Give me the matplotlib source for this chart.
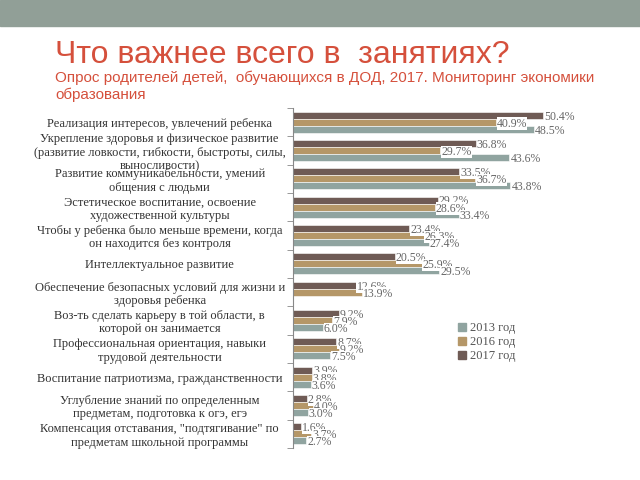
import numpy as np
import matplotlib
matplotlib.use("Agg")
import matplotlib.pyplot as plt
from matplotlib.patches import Rectangle
from matplotlib.lines import Line2D

categories = [
    "Реализация интересов, увлечений ребенка",
    "Укрепление здоровья и физическое развитие\n(развитие ловкости, гибкости, быстроты, силы,\nвыносливости)",
    "Развитие коммуникабельности, умений\nобщения с людьми",
    "Эстетическое воспитание, освоение\nхудожественной культуры",
    "Чтобы у ребенка было меньше времени, когда\nон находится без контроля",
    "Интеллектуальное развитие",
    "Обеспечение безопасных условий для жизни и\nздоровья ребенка",
    "Воз-ть сделать карьеру в той области, в\nкоторой он занимается",
    "Профессиональная ориентация, навыки\nтрудовой деятельности",
    "Воспитание патриотизма, гражданственности",
    "Углубление знаний по определенным\nпредметам, подготовка к огэ, егэ",
    "Компенсация отставания, \"подтягивание\" по\nпредметам школьной программы",
]
v2017 = [50.4, 36.8, 33.5, 29.2, 23.4, 20.5, 12.6, 9.2, 8.7, 3.9, 2.8, 1.6]
v2016 = [40.9, 29.7, 36.7, 28.6, 26.3, 25.9, 13.9, 7.9, 9.2, 3.8, 4.0, 3.7]
v2013 = [48.5, 43.6, 43.8, 33.4, 27.4, 29.5, np.nan, 6.0, 7.5, 3.6, 3.0, 2.7]

c2017 = "#6f5b55"
c2016 = "#b59768"
c2013 = "#90a4a0"
red = "#d5503c"
serif = ["Liberation Serif", "DejaVu Serif"]

fig = plt.figure(figsize=(6.4, 4.8), dpi=100)

# slide header band
fig.patches.append(Rectangle((0, 1 - 26 / 480), 1, 26 / 480, transform=fig.transFigure,
                             color="#919f97", zorder=0))
fig.text(55 / 640, 1 - 63 / 480, "Что важнее всего в  занятиях?", color=red,
         fontsize=23, family="Liberation Sans", va="baseline")
fig.text(55 / 640, 1 - 71 / 480,
         "Опрос родителей детей,  обучающихся в ДОД, 2017. Мониторинг экономики\nобразования",
         color=red, fontsize=11, family="Liberation Sans", linespacing=1.2, va="top")

ax = fig.add_axes([293 / 640, 1 - 448 / 480, 335 / 640, 340 / 480])
y = np.arange(len(categories))
h = 0.25
for vals, off, col in [(v2017, -h, c2017), (v2016, 0, c2016), (v2013, h, c2013)]:
    vals = np.array(vals, dtype=float)
    ok = ~np.isnan(vals)
    ax.barh(y[ok] + off, vals[ok], height=h, color=col, edgecolor="white", linewidth=0.4)
    for yi, v in zip(y[ok] + off, vals[ok]):
        ax.text(v + 0.2, yi + 0.05, f"{v:.1f}%", va="center", ha="left", fontsize=8.5,
                family=serif, color="#666666",
                bbox=dict(facecolor="white", edgecolor="none", pad=0.1))

ax.set_xlim(0, 67.5)
ax.set_ylim(len(categories) - 0.5, -0.5)
ax.set_yticks(y)
ax.set_yticklabels(categories, family=serif, fontsize=9, color="#333333",
                   ha="center", linespacing=1.15)
ax.tick_params(axis="y", which="major", length=0, pad=96)
ax.set_yticks(np.arange(len(categories) + 1) - 0.5, minor=True)
ax.tick_params(axis="y", which="minor", length=4, color="#888888")
ax.set_xticks([])
for s in ["top", "right", "bottom"]:
    ax.spines[s].set_visible(False)
ax.spines["left"].set_color("#888888")

handles = [Line2D([], [], marker="s", linestyle="none", markersize=6, color=c)
           for c in [c2013, c2016, c2017]]
fig.legend(handles, ["2013 год", "2016 год", "2017 год"], loc="upper left",
           bbox_to_anchor=(446 / 640, 1 - 311 / 480), frameon=False,
           prop={"family": serif, "size": 9}, handlelength=0.8, handletextpad=0.2,
           labelspacing=0.15, labelcolor="#555555")

fig.savefig("out.png", dpi=100)
